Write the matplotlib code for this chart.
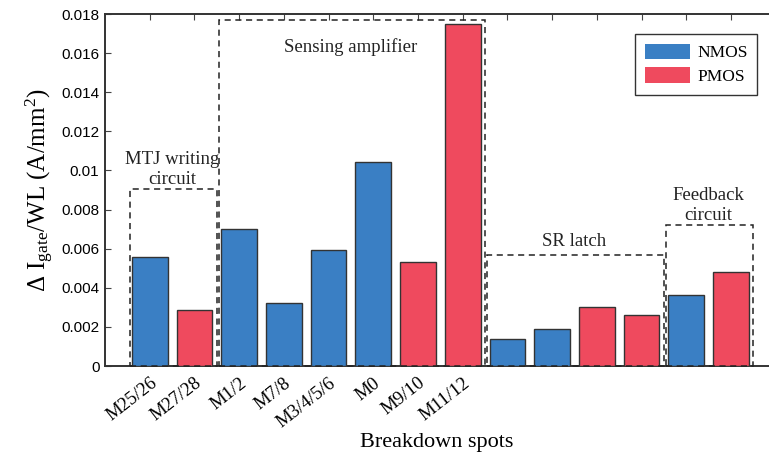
import matplotlib.pyplot as plt
from matplotlib.patches import Rectangle, Patch

plt.rcParams['mathtext.fontset'] = 'custom'
plt.rcParams['mathtext.rm'] = 'Liberation Serif'
plt.rcParams['mathtext.it'] = 'Liberation Serif:italic'

# bar values (A/mm^2), one per breakdown spot
values = [0.00557, 0.00285, 0.0070, 0.00322, 0.00593, 0.01043, 0.00532, 0.0175,
          0.00136, 0.00188, 0.00302, 0.00259, 0.00363, 0.00479]
types = ['N', 'P', 'N', 'N', 'N', 'N', 'P', 'P',
         'N', 'N', 'P', 'P', 'N', 'P']
tick_labels = ['M25/26', 'M27/28', 'M1/2', 'M7/8', 'M3/4/5/6', 'M0', 'M9/10', 'M11/12']

# circuit groups: (label, first bar, last bar, box height)
group_names = ['MTJ writing\ncircuit', 'Sensing amplifier', 'SR latch', 'Feedback\ncircuit']
group_first = [1, 3, 9, 13]
group_last = [2, 8, 12, 14]
group_top = [0.00905, 0.0177, 0.0057, 0.0072]

blue = '#3a7fc4'
red = '#ef4a5e'
serif = 'Liberation Serif'

fig = plt.figure(figsize=(7.69, 4.53), dpi=100)
ax = fig.add_axes([0.1365, 0.192, 0.8635, 0.777])

x = list(range(1, len(values) + 1))
colors = [blue if t == 'N' else red for t in types]
ax.bar(x, values, width=0.8, color=colors, edgecolor='#333333', linewidth=1.0, zorder=3)

# dashed group boxes and their labels
for name, a, b, top in zip(group_names, group_first, group_last, group_top):
    left = a - 0.45
    right = b + 0.5
    ax.add_patch(Rectangle((left, 0), right - left, top, fill=False, linestyle=(0, (4, 3)),
                           edgecolor='#222222', linewidth=1.1, zorder=4, clip_on=False))
    cx = (a + b) / 2
    if name == 'Sensing amplifier':
        ax.text(cx, 0.0163, name, ha='center', va='center', fontsize=13.5, family=serif,
                color='#222222')
    elif name == 'SR latch':
        ax.text(cx, top + 0.00025, name, ha='center', va='bottom', fontsize=13.5,
                family=serif, color='#222222')
    else:
        ax.text(cx, top + 0.00005, name, ha='center', va='bottom', fontsize=13.5, family=serif,
                color='#222222', linespacing=1.25)

ax.set_xlim(0, 14.85)
ax.set_ylim(0, 0.018)

yt = [0, 0.002, 0.004, 0.006, 0.008, 0.01, 0.012, 0.014, 0.016, 0.018]
ax.set_yticks(yt)
ax.set_yticklabels(['0', '0.002', '0.004', '0.006', '0.008', '0.01', '0.012', '0.014',
                    '0.016', '0.018'], family='Liberation Sans', fontsize=11)
ax.set_xticks(x)
ax.set_xticklabels(tick_labels + [''] * (len(x) - len(tick_labels)), family=serif,
                   fontsize=13.5, rotation=38, ha='right', rotation_mode='anchor')
ax.tick_params(axis='both', direction='in', length=4, color='#444444')
ax.tick_params(axis='x', top=True, pad=6)
ax.tick_params(axis='y', pad=4)

for s in ['left', 'bottom', 'top']:
    ax.spines[s].set_color('#333333')
    ax.spines[s].set_linewidth(1.4)
ax.spines['right'].set_visible(False)

ax.set_ylabel(r'$\Delta$ I$_{\rm gate}$/WL (A/mm$^2$)', family=serif, fontsize=18, labelpad=4)
ax.set_xlabel('Breakdown spots', family=serif, fontsize=16, labelpad=2)

handles = [Patch(facecolor=blue, edgecolor='none'), Patch(facecolor=red, edgecolor='none')]
leg = ax.legend(handles, ['NMOS', 'PMOS'], loc='upper right', bbox_to_anchor=(0.982, 0.943),
                borderaxespad=0, prop={'family': serif, 'size': 12.5}, frameon=True,
                fancybox=False, handlelength=2.6, handleheight=1.0, borderpad=0.55,
                labelspacing=0.35, handletextpad=0.4)
leg.get_frame().set_edgecolor('black')
leg.get_frame().set_linewidth(1.0)

fig.savefig('out.png', dpi=100)
